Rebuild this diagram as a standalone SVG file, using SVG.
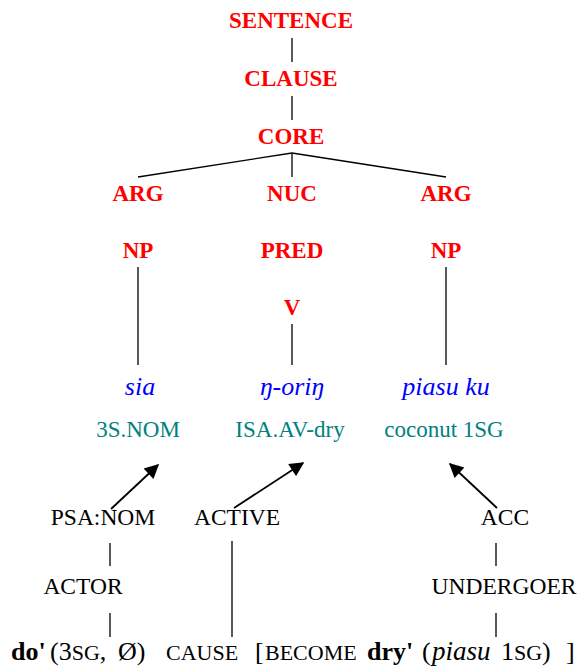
<svg xmlns="http://www.w3.org/2000/svg" width="579" height="667" viewBox="0 0 579 667">
<style>
.t{font-family:"Liberation Serif","Times New Roman",serif;text-anchor:middle}
.red{fill:#FF0000;font-weight:bold;font-size:23px}
.blue{fill:#0000FF;font-style:italic;font-size:26px}
.teal{fill:#008080;font-size:23px}
.blk{fill:#000;font-size:23.5px}
.ln{stroke:#000;stroke-width:1.3;fill:none}
.ar{stroke:#000;stroke-width:1.8;fill:none;marker-end:url(#ah)}
.bl{font-family:"Liberation Serif","Times New Roman",serif;font-size:26px;fill:#000}
.sc{font-size:22px}
</style>
<defs>
<marker id="ah" viewBox="0 0 10 10" refX="9" refY="5" markerWidth="9.5" markerHeight="8" markerUnits="strokeWidth" orient="auto">
<path d="M0,0 L10,5 L0,10 z" fill="#000"/>
</marker>
</defs>
<g id="connectors">
<line class="ln" x1="292" y1="38" x2="292" y2="62"/>
<line class="ln" x1="292" y1="96" x2="292" y2="120"/>
<line class="ln" x1="292" y1="153" x2="138" y2="177"/>
<line class="ln" x1="292" y1="153" x2="292" y2="177"/>
<line class="ln" x1="292" y1="153" x2="446" y2="177"/>
<line class="ln" x1="138" y1="267" x2="138" y2="365"/>
<line class="ln" x1="292" y1="324" x2="292" y2="365"/>
<line class="ln" x1="446" y1="267" x2="446" y2="365"/>
<line class="ar" x1="111" y1="509" x2="158" y2="465"/>
<line class="ar" x1="234" y1="508" x2="303" y2="463"/>
<line class="ar" x1="497" y1="508" x2="450" y2="464"/>
<line class="ln" x1="110" y1="543" x2="110" y2="566"/>
<line class="ln" x1="110" y1="613" x2="110" y2="637"/>
<line class="ln" x1="232" y1="541" x2="232" y2="637"/>
<line class="ln" x1="496" y1="543" x2="496" y2="566"/>
<line class="ln" x1="496" y1="613" x2="496" y2="637"/>
</g>
<g id="sentence"><text class="t red" x="291" y="28">SENTENCE</text></g>
<g id="clause"><text class="t red" x="291" y="86">CLAUSE</text></g>
<g id="core"><text class="t red" x="291" y="144">CORE</text></g>
<g id="arg1"><text class="t red" x="138" y="201">ARG</text></g>
<g id="nuc"><text class="t red" x="292" y="201">NUC</text></g>
<g id="arg2"><text class="t red" x="446" y="201">ARG</text></g>
<g id="np1"><text class="t red" x="138" y="258">NP</text></g>
<g id="pred"><text class="t red" x="292" y="258">PRED</text></g>
<g id="np2"><text class="t red" x="446" y="258">NP</text></g>
<g id="v"><text class="t red" x="292" y="315">V</text></g>
<g id="sia"><text class="t blue" x="140" y="395">sia</text></g>
<g id="ngoring"><text class="t blue" x="292" y="395">ŋ-oriŋ</text></g>
<g id="piasuku"><text class="t blue" x="446" y="395">piasu ku</text></g>
<g id="gloss1"><text class="t teal" x="138" y="437">3S.NOM</text></g>
<g id="gloss2"><text class="t teal" x="290" y="437">ISA.AV-dry</text></g>
<g id="gloss3"><text class="t teal" x="444" y="437">coconut 1SG</text></g>
<g id="psanom"><text class="t blk" x="103" y="525">PSA:NOM</text></g>
<g id="active"><text class="t blk" x="237" y="525">ACTIVE</text></g>
<g id="acc"><text class="t blk" x="505" y="525">ACC</text></g>
<g id="actor"><text class="t blk" x="83" y="594">ACTOR</text></g>
<g id="undergoer"><text class="t blk" x="504" y="594">UNDERGOER</text></g>
<g id="lsr">
<text class="bl" y="660"><tspan x="11" font-weight="bold">do'</tspan><tspan x="50">(3</tspan><tspan class="sc">SG</tspan><tspan>,</tspan><tspan x="118">Ø)</tspan><tspan x="166" class="sc">CAUSE</tspan><tspan x="255">[</tspan><tspan class="sc" x="265">BECOME</tspan><tspan x="367" font-weight="bold">dry'</tspan><tspan x="422">(</tspan><tspan x="432" font-style="italic" font-size="27px">piasu</tspan><tspan x="501">1</tspan><tspan class="sc">SG</tspan><tspan x="542">)</tspan><tspan x="566">]</tspan></text>
</g>
</svg>
